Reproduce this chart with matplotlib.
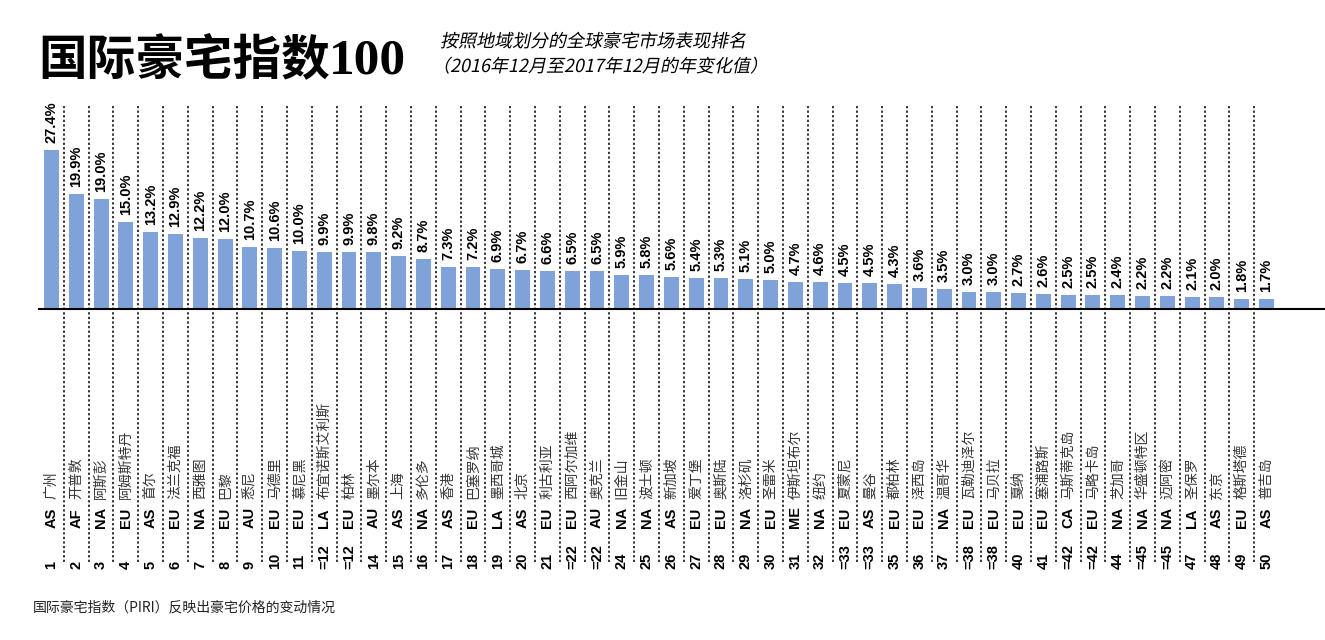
import matplotlib
matplotlib.use("Agg")
import matplotlib.pyplot as plt
from matplotlib.textpath import TextPath
from matplotlib.patches import PathPatch
from matplotlib.font_manager import FontProperties
from matplotlib.transforms import Affine2D

# data
ranks = ['1', '2', '3', '4', '5', '6', '7', '8', '9', '10', '11', '=12', '=12', '14', '15',
         '16', '17', '18', '19', '20', '21', '=22', '=22', '24', '25', '26', '27', '28', '29',
         '30', '31', '32', '=33', '=33', '35', '36', '37', '=38', '=38', '40', '41', '=42',
         '=42', '44', '=45', '=45', '47', '48', '49', '50']
regions = ['AS', 'AF', 'NA', 'EU', 'AS', 'EU', 'NA', 'EU', 'AU', 'EU', 'EU', 'LA', 'EU', 'AU',
           'AS', 'NA', 'AS', 'EU', 'LA', 'AS', 'EU', 'EU', 'AU', 'NA', 'NA', 'AS', 'EU', 'EU',
           'NA', 'EU', 'ME', 'NA', 'EU', 'AS', 'EU', 'EU', 'NA', 'EU', 'EU', 'EU', 'EU', 'CA',
           'EU', 'NA', 'NA', 'NA', 'LA', 'AS', 'EU', 'AS']
cities = ['广州', '开普敦', '阿斯彭', '阿姆斯特丹', '首尔', '法兰克福', '西雅图', '巴黎', '悉尼',
          '马德里', '慕尼黑', '布宜诺斯艾利斯', '柏林', '墨尔本', '上海', '多伦多', '香港',
          '巴塞罗纳', '墨西哥城', '北京', '利古利亚', '西阿尔加维', '奥克兰', '旧金山', '波士顿',
          '新加坡', '爱丁堡', '奥斯陆', '洛杉矶', '圣雷米', '伊斯坦布尔', '纽约', '夏蒙尼', '曼谷',
          '都柏林', '泽西岛', '温哥华', '瓦勒迪泽尔', '马贝拉', '戛纳', '塞浦路斯', '马斯蒂克岛',
          '马略卡岛', '芝加哥', '华盛顿特区', '迈阿密', '圣保罗', '东京', '格斯塔德', '普吉岛']
changes = [27.4, 19.9, 19.0, 15.0, 13.2, 12.9, 12.2, 12.0, 10.7, 10.6, 10.0, 9.9, 9.9, 9.8,
           9.2, 8.7, 7.3, 7.2, 6.9, 6.7, 6.6, 6.5, 6.5, 5.9, 5.8, 5.6, 5.4, 5.3, 5.1, 5.0,
           4.7, 4.6, 4.5, 4.5, 4.3, 3.6, 3.5, 3.0, 3.0, 2.7, 2.6, 2.5, 2.5, 2.4, 2.2, 2.2,
           2.1, 2.0, 1.8, 1.7]

bar_color = '#7FA2D8'
cjk = ['Noto Sans CJK SC', 'DejaVu Sans']
latin = ['Liberation Sans', 'DejaVu Sans']

W, H = 1325, 640
fig = plt.figure(figsize=(W / 100, H / 100), dpi=100)

# axes placed in pixel terms: left 38, right 1325, top 100, bottom 570
ax = fig.add_axes([38 / W, (H - 570) / H, (W - 38) / W, 470 / H])
n = len(changes)
xs = list(range(n))
px_per_unit = 24.8
ax.set_xlim((38 - 51.5) / px_per_unit, (n - 1) + (W - 1266.5) / px_per_unit)
y_scale = 5.8
ax.set_ylim((309 - 570) / y_scale, (309 - 100) / y_scale)
ax.axis('off')

def py(p):
    # pixel row -> data y
    return (309 - p) / y_scale

ax.bar(xs, changes, width=0.6, color=bar_color, zorder=2)
ax.axhline(0, color='black', lw=1.5, zorder=3)

# dotted separators
ax.vlines([i + 0.5 for i in range(n - 1)], py(562), py(106), colors='black',
          linestyles=(0, (1.5, 1.5)), lw=1.1, zorder=1)

for i, v in enumerate(changes):
    ax.annotate(f'{v:.1f}%', (i, v), xytext=(0, 5), textcoords='offset points',
                rotation=90, ha='center', va='bottom', fontsize=10.5, fontweight='bold',
                family=latin)
    ax.text(i, py(499), cities[i], rotation=90, ha='center', va='bottom', fontsize=10,
            family=cjk, color='#333333')
    ax.text(i, py(528), regions[i], rotation=90, ha='center', va='bottom', fontsize=10.5,
            fontweight='bold', family=latin)
    ax.text(i, py(569), ranks[i], rotation=90, ha='center', va='bottom', fontsize=10.5,
            fontweight='bold', family=latin)

# title
fig.text(38 / W, (H - 74) / H, '国际豪宅指数', fontsize=35, fontweight='black',
         family=cjk, va='baseline', ha='left')
fig.text(329 / W, (H - 73) / H, '100', fontsize=37, fontweight='bold',
         family=['Liberation Serif', 'DejaVu Serif'], va='baseline', ha='left')

# italic subtitle via skewed text paths
fp = FontProperties(family='Noto Sans CJK SC')
for s, x0, base in [('按照地域划分的全球豪宅市场表现排名', 440, 47),
                    ('（2016年12月至2017年12月的年变化值）', 432, 72)]:
    tp = TextPath((0, 0), s, size=18, prop=fp)
    tr = Affine2D().skew_deg(12, 0).translate(x0, H - base)
    fig.add_artist(PathPatch(tp, transform=tr, facecolor='black', lw=0))

fig.text(33 / W, (H - 607) / H, '国际豪宅指数（PIRI）反映出豪宅价格的变动情况', fontsize=10,
         family=cjk, color='#222222', va='center', ha='left')

fig.savefig('out.png', dpi=100)
